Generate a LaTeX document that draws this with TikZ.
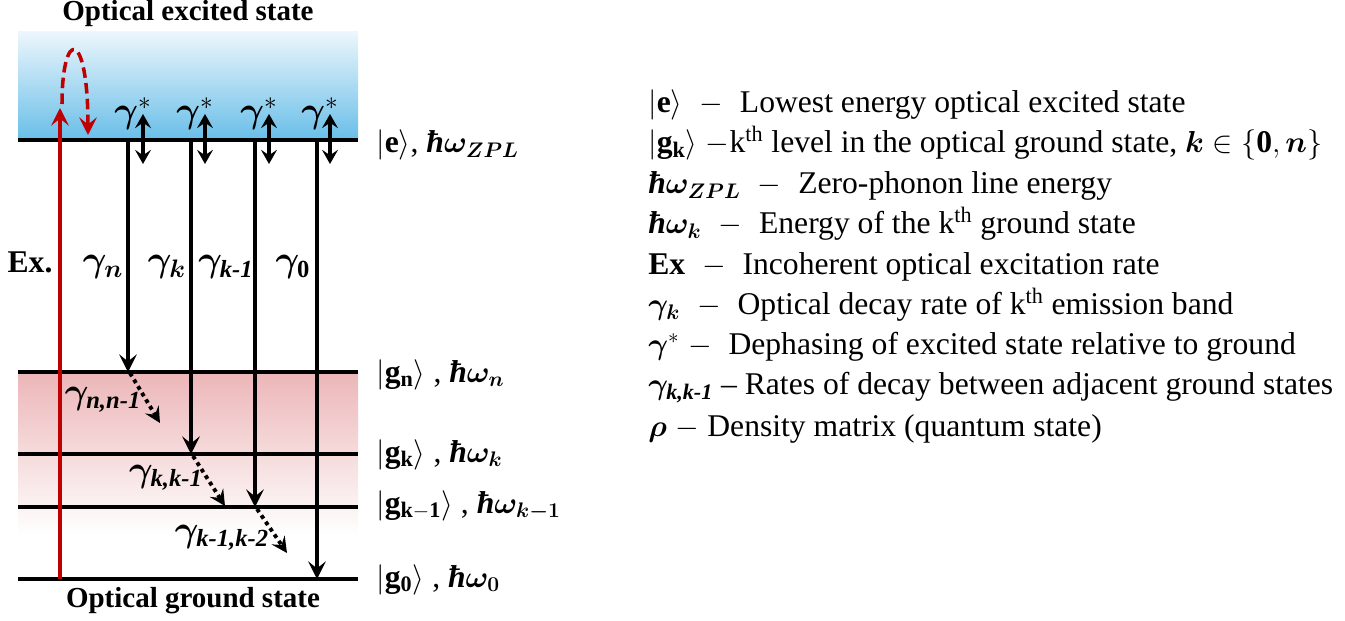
\documentclass[tikz,border=0pt]{standalone}
\usepackage{amsmath}
\usepackage{bm}
\usepackage{fontspec}
\setmainfont{Liberation Serif}
\usetikzlibrary{arrows.meta,positioning,calc}

\definecolor{exred}{RGB}{192,0,0}
\definecolor{bandtop}{RGB}{236,246,252}
\definecolor{bandblue}{RGB}{104,190,232}
\definecolor{bandpink}{RGB}{236,182,184}

\newcommand{\bsub}[1]{\text{\bfseries\itshape #1}}
\newcommand{\hb}{\text{\bfseries\itshape ħ}}

\tikzset{
  level/.style={line width=2.4pt},
  decay/.style={line width=2pt, -{Stealth[length=10pt,width=10pt,inset=4pt]}},
  dephase/.style={line width=2pt, {Stealth[length=8pt,width=9pt,inset=3pt]}-{Stealth[length=8pt,width=9pt,inset=3pt]}},
  relax/.style={line width=2.2pt, dash pattern=on 2.2pt off 2.2pt, -{Stealth[length=9pt,width=9pt,inset=3.5pt]}},
  exarrow/.style={exred, line width=2pt, -{Stealth[length=10pt,width=10pt,inset=4pt]}},
  lvlabel/.style={anchor=base west, inner sep=0pt, font=\fontsize{18}{20}\selectfont},
  ratelabel/.style={inner sep=0pt, font=\fontsize{20}{22}\selectfont},
  legend/.style={anchor=base west, inner sep=0pt, font=\fontsize{18}{20}\selectfont},
  title/.style={inner sep=0pt, font=\fontsize{16.5}{18}\selectfont\bfseries}
}

\begin{document}
\begin{tikzpicture}[x=0.02cm, y=-0.02cm]
    \useasboundingbox (0,0) rectangle (1345,621);

    % Bands
    \shade[top color=bandtop, bottom color=bandblue] (18,32) rectangle (358,140);
    \shade[top color=bandpink, bottom color=white] (18,372) rectangle (358,535);

    % Energy levels
    \coordinate (eL) at (18,140);   \coordinate (eR) at (358,140);
    \coordinate (gnL) at (18,372);  \coordinate (gnR) at (358,372);
    \coordinate (gkL) at (18,454);  \coordinate (gkR) at (358,454);
    \coordinate (gmL) at (18,507);  \coordinate (gmR) at (358,507);
    \coordinate (gzL) at (18,579);  \coordinate (gzR) at (358,579);
    \foreach \lv in {e,gn,gk,gm,gz}
        \draw[level] (\lv L) -- (\lv R);

    \node[title] (top) at (188,14) {Optical excited state};
    \node[title] (bottom) at (193,601) {Optical ground state};

    % Level labels
    \node[lvlabel] (le) at (376,153) {$|\mathbf{e}\rangle$, $\hb\bm{\omega}_{\bm{ZPL}}$};
    \node[lvlabel] (lgn) at (376,382) {$|\mathbf{g_n}\rangle$ , $\hb\bm{\omega_n}$};
    \node[lvlabel] (lgk) at (376,462) {$|\mathbf{g_k}\rangle$ , $\hb\bm{\omega_k}$};
    \node[lvlabel] (lgm) at (376,513) {$|\mathbf{g_{k-1}}\rangle$ , $\hb\bm{\omega_{k-1}}$};
    \node[lvlabel] (lgz) at (376,587) {$|\mathbf{g_0}\rangle$ , $\hb\bm{\omega_0}$};

    % Decay from e
    \coordinate (tn) at (128,140);
    \coordinate (tk) at (191,140);
    \coordinate (tm) at (255,140);
    \coordinate (tz) at (317,140);
    \draw[decay] (tn) -- (tn |- gnL);
    \draw[decay] (tk) -- (tk |- gkL);
    \draw[decay] (tm) -- (tm |- gmL);
    \draw[decay] (tz) -- (tz |- gzL);

    \node[ratelabel] (rn) at (103,267) {$\bm{\gamma}_{\bm{n}}$};
    \node[ratelabel] (rk) at (167,267) {$\bm{\gamma}_{\bm{k}}$};
    \node[ratelabel] (rm) at (226,267) {$\bm{\gamma}_{\bsub{k-1}}$};
    \node[ratelabel] (rz) at (293,267) {$\bm{\gamma}_{\mathbf{0}}$};

    % Dephasing
    \foreach \x [count=\i] in {143,205,269,330} {
        \coordinate (dp\i a) at (\x,114);
        \coordinate (dp\i b) at (\x,164);
        \draw[dephase] (dp\i a) -- (dp\i b);
        \node[ratelabel] (ds\i) at (\x-10,114) {$\bm{\gamma}^{*}$};
    }

    % Relaxation between ground levels
    \coordinate (rl1a) at (130,373); \coordinate (rl1b) at (160,423);
    \coordinate (rl2a) at (193,456); \coordinate (rl2b) at (225,506);
    \coordinate (rl3a) at (257,509); \coordinate (rl3b) at (287,553);
    \draw[relax] (rl1a) -- (rl1b);
    \draw[relax] (rl2a) -- (rl2b);
    \draw[relax] (rl3a) -- (rl3b);
    \node[ratelabel] (rnn) at (103,400) {$\bm{\gamma}_{\bsub{n,n-1}}$};
    \node[ratelabel] (rkk) at (166,478) {$\bm{\gamma}_{\bsub{k,k-1}}$};
    \node[ratelabel] (rmm) at (222,538) {$\bm{\gamma}_{\bsub{k-1,k-2}}$};

    % Excitation
    \coordinate (exb) at (60,579);
    \coordinate (ext) at (60,108);
    \draw[exarrow] (exb) -- (ext);
    \node[title, font=\fontsize{18}{20}\selectfont\bfseries] (ex) at (30,262) {Ex.};
    \coordinate (dashS) at (62,104);
    \coordinate (dashE) at (88,135);
    \draw[exarrow, dash pattern=on 6pt off 3pt] (dashS) .. controls (62,28) and (88,28) .. (dashE);

    % Legend
    \node[legend] (leg1) at (648,113) {$|\mathbf{e}\rangle\;\;-\;\;$Lowest energy optical excited state};
    \node[legend] (leg2) at (648,153) {$|\mathbf{g_k}\rangle\;-$k\textsuperscript{th} level in the optical ground state, $\bm{k}\in\{\mathbf{0},\bm{n}\}$};
    \node[legend] (leg3) at (648,194) {$\hb\bm{\omega}_{\bm{ZPL}}\;\;-\;\;$Zero-phonon line energy};
    \node[legend] (leg4) at (648,234) {$\hb\bm{\omega_k}\;\;-\;\;$Energy of the k\textsuperscript{th} ground state};
    \node[legend] (leg5) at (648,275) {\textbf{Ex}$\;\;-\;\;$Incoherent optical excitation rate};
    \node[legend] (leg6) at (648,315) {$\bm{\gamma_k}\;\;-\;\;$Optical decay rate of k\textsuperscript{th} emission band};
    \node[legend] (leg7) at (648,355) {$\bm{\gamma}^{*}\;-\;\;$Dephasing of excited state relative to ground};
    \node[legend] (leg8) at (648,395) {$\bm{\gamma}_{\bsub{k,k-1}}$ -- Rates of decay between adjacent ground states};
    \node[legend] (leg9) at (648,436) {$\bm{\rho}\;-\;$Density matrix (quantum state)};
\end{tikzpicture}
\end{document}
